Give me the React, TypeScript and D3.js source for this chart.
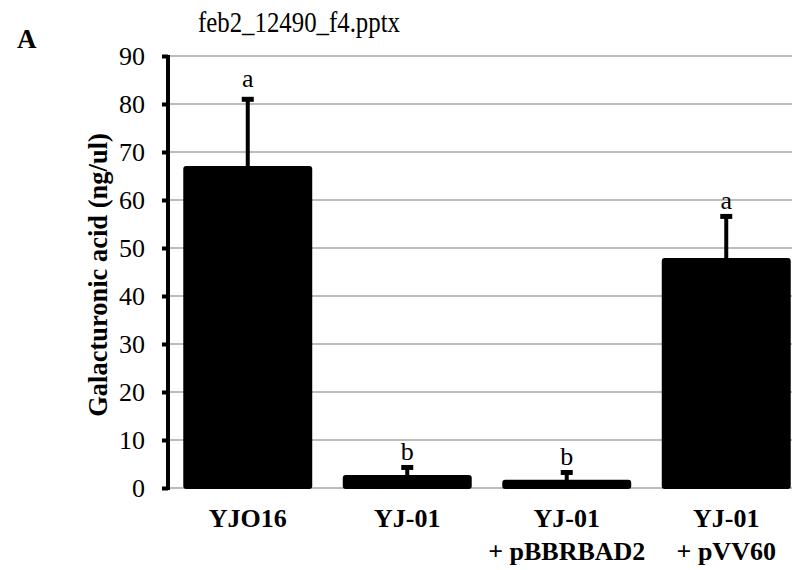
import React, { useRef, useEffect } from 'react';
import * as d3 from 'd3';

const strains = ['YJO16', 'YJ-01', 'YJ-01', 'YJ-01'];
const strainSub = ['', '', '+ pBBRBAD2', '+ pVV60'];
const means = [66.9, 2.5, 1.5, 47.7];
const errors = [14.6, 2.3, 2.25, 9.4];
const letters = ['a', 'b', 'b', 'a'];
const yTicks = [0, 10, 20, 30, 40, 50, 60, 70, 80, 90];

const serif = '"Liberation Serif", "Times New Roman", serif';

const App = () => {
  const svg = useRef<SVGSVGElement>(null);
  const width = 792;
  const height = 570;

  useEffect(() => {
    const root = d3.select(svg.current);
    root.selectAll('*').remove();

    const left = 168;
    const top = 56;
    const bottom = 488;

    // band scale runs past the right edge, like the cropped original
    const xScale = d3.scaleBand<number>()
      .domain(d3.range(means.length))
      .range([left, left + 4 * 159.5])
      .paddingInner(0.204)
      .paddingOuter(0.102);

    const yScale = d3.scaleLinear().domain([0, 90]).range([bottom, top]);

    // gridlines
    root.append('g')
      .selectAll('line')
      .data(yTicks)
      .join('line')
      .attr('x1', left)
      .attr('x2', width)
      .attr('y1', d => yScale(d))
      .attr('y2', d => yScale(d))
      .attr('stroke', '#a6a6a6')
      .attr('stroke-width', 1.5);

    // bars
    root.append('g')
      .selectAll('rect')
      .data(means)
      .join('rect')
      .attr('x', (d, i) => xScale(i)!)
      .attr('y', d => yScale(d))
      .attr('width', xScale.bandwidth())
      .attr('height', d => bottom - yScale(d))
      .attr('rx', 2)
      .attr('fill', '#000')
      .attr('stroke', '#000')
      .attr('stroke-width', 2);

    // error bars, upper side only
    const err = root.append('g');
    means.forEach((m, i) => {
      const cx = xScale(i)! + xScale.bandwidth() / 2;
      const yTop = yScale(m + errors[i]);
      err.append('line')
        .attr('x1', cx).attr('x2', cx)
        .attr('y1', yScale(m)).attr('y2', yTop + 2)
        .attr('stroke', '#000').attr('stroke-width', 4);
      err.append('rect')
        .attr('x', cx - 6).attr('y', yTop)
        .attr('width', 12).attr('height', 5)
        .attr('fill', '#000');
      err.append('text')
        .attr('x', cx)
        .attr('y', yTop - (i === 0 ? 10 : 5))
        .attr('text-anchor', 'middle')
        .attr('font-family', serif)
        .attr('font-size', 26)
        .text(letters[i]);
    });

    // y axis
    const yAxis = root.append('g')
      .attr('transform', `translate(${left},0)`)
      .call(d3.axisLeft(yScale).tickValues(yTicks).tickSize(6).tickPadding(17));
    yAxis.select('.domain').remove();
    yAxis.selectAll('.tick line').attr('stroke', '#000').attr('stroke-width', 4);
    yAxis.selectAll('.tick text')
      .attr('font-family', serif)
      .attr('font-size', 26)
      .attr('fill', '#000');
    root.append('line')
      .attr('x1', left).attr('x2', left)
      .attr('y1', top - 1).attr('y2', bottom + 2)
      .attr('stroke', '#000').attr('stroke-width', 4);

    // x labels
    const xl = root.append('g')
      .attr('font-family', serif)
      .attr('font-weight', 'bold')
      .attr('font-size', 26)
      .attr('text-anchor', 'middle');
    strains.forEach((s, i) => {
      const cx = xScale(i)! + xScale.bandwidth() / 2;
      xl.append('text').attr('x', cx).attr('y', 527).text(s);
      if (strainSub[i]) xl.append('text').attr('x', cx).attr('y', 560).text(strainSub[i]);
    });

    // y title
    root.append('text')
      .attr('transform', `translate(107,275) rotate(-90)`)
      .attr('text-anchor', 'middle')
      .attr('font-family', serif)
      .attr('font-weight', 'bold')
      .attr('font-size', 26.5)
      .text('Galacturonic acid (ng/ul)');

    root.append('text')
      .attr('x', 17).attr('y', 48)
      .attr('font-family', serif)
      .attr('font-weight', 'bold')
      .attr('font-size', 27)
      .text('A');

    root.append('text')
      .attr('x', 198).attr('y', 32)
      .attr('font-family', serif)
      .attr('font-size', 29)
      .attr('textLength', 202)
      .attr('lengthAdjust', 'spacingAndGlyphs')
      .text('feb2_12490_f4.pptx');
  }, []);

  return (
    <svg
      width={width}
      height={height}
      ref={svg}
      style={{ position: 'absolute', left: 0, top: 0, background: '#fff' }}
    >
    </svg>
  );
};

export default App;
